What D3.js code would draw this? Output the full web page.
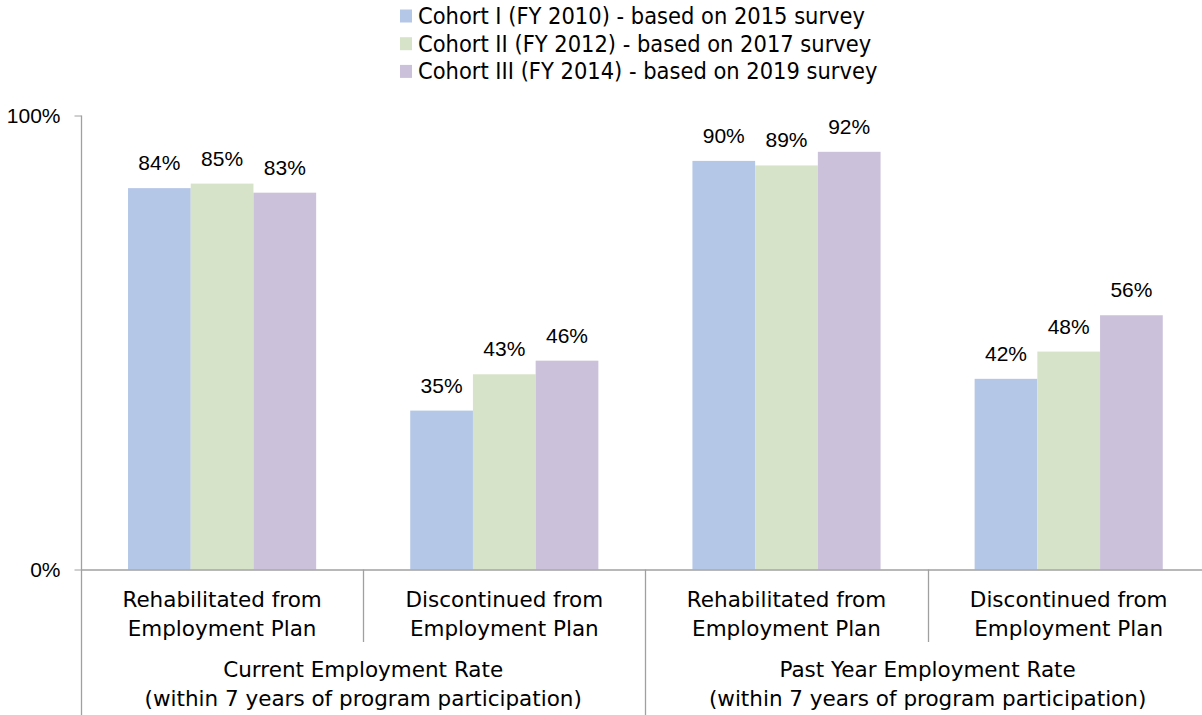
<!DOCTYPE html>
<html><head><meta charset="utf-8">
<script src="https://cdn.jsdelivr.net/npm/d3@7"></script>
<style>body{margin:0;background:#fff;} svg{display:block;}</style>
</head><body>
<svg id="chart" width="1202" height="715"></svg>
<script>
const categories = [
  ["Rehabilitated from", "Employment Plan"],
  ["Discontinued from", "Employment Plan"],
  ["Rehabilitated from", "Employment Plan"],
  ["Discontinued from", "Employment Plan"]
];
const groupLabels = [
  ["Current Employment Rate", "(within 7 years of program participation)"],
  ["Past Year Employment Rate", "(within 7 years of program participation)"]
];
const seriesNames = [
  "Cohort I (FY 2010) - based on 2015 survey",
  "Cohort II (FY 2012) - based on 2017 survey",
  "Cohort III (FY 2014) - based on 2019 survey"
];
const cohort1 = [84, 35, 90, 42];
const cohort2 = [85, 43, 89, 48];
const cohort3 = [83, 46, 92, 56];
const yTicks = [0, 100];
const colors = ["#b4c7e7", "#d6e3c8", "#ccc1da"];

const series = [cohort1, cohort2, cohort3];
const svg = d3.select("#chart");
const axisColor = "#a0a0a0";
const numFont = "'Liberation Sans', Arial, sans-serif";
const txtFont = "'DejaVu Sans', Verdana, sans-serif";
const legFont = "'DejaVu Sans Condensed', 'DejaVu Sans', sans-serif";

const x0 = 81, step = 282.2;
const y = d3.scaleLinear().domain([0, 100]).range([569.5, 115.5]);
const x = d3.scaleBand().domain(d3.range(categories.length)).range([x0, x0 + step * categories.length]).padding(0);
const xs = d3.scaleBand().domain(d3.range(series.length)).range([0, x.bandwidth()]).paddingInner(0).paddingOuter(0.75);

// bars
series.forEach((vals, si) => {
  const g = svg.append("g");
  g.selectAll("rect").data(vals).join("rect")
    .attr("x", (d, i) => x(i) + xs(si))
    .attr("width", xs.bandwidth())
    .attr("y", d => y(d))
    .attr("height", d => y(0) - y(d))
    .attr("fill", colors[si]);
  g.selectAll("text").data(vals).join("text")
    .attr("x", (d, i) => x(i) + xs(si) + xs.bandwidth() / 2)
    .attr("y", d => y(d) - 18)
    .attr("text-anchor", "middle")
    .style("font-family", numFont).style("font-size", "21px").attr("fill", "#000")
    .text(d => d + "%");
});

// y axis
const yAxisG = svg.append("g").attr("transform", `translate(${x0 + 0.5},0)`)
  .call(d3.axisLeft(y).tickValues(yTicks).tickFormat(d => d + "%").tickSize(7).tickSizeOuter(0));
yAxisG.select(".domain").remove();
yAxisG.selectAll(".tick line").attr("stroke", axisColor);
yAxisG.selectAll(".tick text").attr("x", -21).attr("dy", "0.33em")
  .style("font-family", numFont).style("font-size", "21px").attr("fill", "#000");
svg.append("line").attr("x1", x0 + 0.5).attr("x2", x0 + 0.5).attr("y1", y(100)).attr("y2", 715)
  .attr("stroke", axisColor).attr("stroke-width", 1.3);

// x axis line
svg.append("line").attr("x1", x0).attr("x2", 1202).attr("y1", y(0) + 0.5).attr("y2", y(0) + 0.5)
  .attr("stroke", axisColor).attr("stroke-width", 1.3);

// category dividers
d3.range(1, categories.length).forEach(i => {
  const xx = Math.round(x(i)) + 0.5;
  svg.append("line").attr("x1", xx).attr("x2", xx).attr("y1", y(0)).attr("y2", i % 2 === 0 ? 715 : 642)
    .attr("stroke", axisColor).attr("stroke-width", 1.3);
});

// category labels
categories.forEach((lines, i) => {
  const t = svg.append("text").attr("text-anchor", "middle")
    .style("font-family", txtFont).style("font-size", "21.5px").attr("fill", "#000");
  lines.forEach((ln, k) => t.append("tspan").attr("x", x(i) + x.bandwidth() / 2).attr("y", 607 + k * 28.5).text(ln));
});

// group labels
groupLabels.forEach((lines, gi) => {
  const cx = x(gi * 2) + x.bandwidth();
  const t = svg.append("text").attr("text-anchor", "middle")
    .style("font-family", txtFont).style("font-size", "21.5px").attr("fill", "#000");
  lines.forEach((ln, k) => t.append("tspan").attr("x", cx).attr("y", 677 + k * 28.5).text(ln));
});

// legend
const leg = svg.append("g");
seriesNames.forEach((name, i) => {
  const cy = 16 + i * 27.7;
  leg.append("rect").attr("x", 400).attr("y", cy - 6.5).attr("width", 12).attr("height", 13).attr("fill", colors[i]);
  leg.append("text").attr("x", 418).attr("y", cy + 8)
    .style("font-family", legFont).style("font-size", "23.4px").attr("fill", "#000").text(name);
});
</script>
</body></html>
